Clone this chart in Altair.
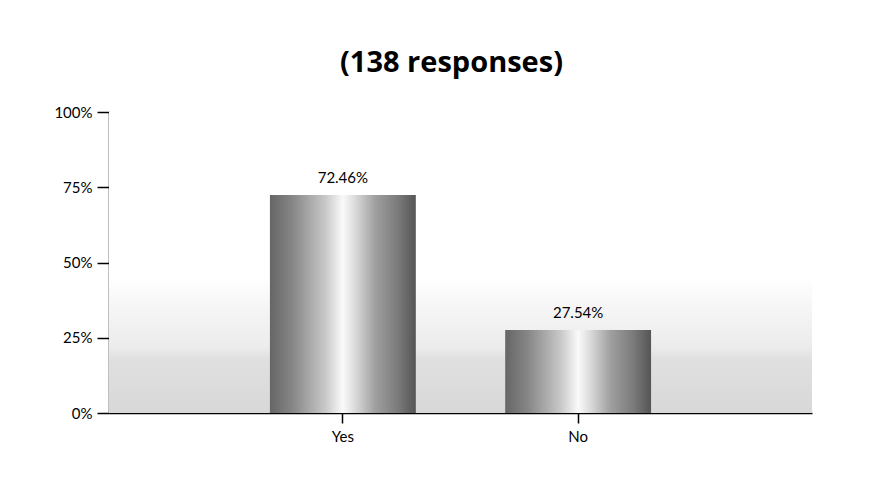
import altair as alt
import pandas as pd

answers = ["Yes", "No"]
percents = [72.46, 27.54]
y_ticks = [0, 25, 50, 75, 100]
title_text = "(138 responses)"

df = pd.DataFrame({"answer": answers, "pct": percents})

FONT = "Lato"
TITLE_FONT = "Open Sans"

bar_grad = alt.Gradient(
    gradient="linear", x1=0, x2=1, y1=0, y2=0,
    stops=[
        alt.GradientStop(offset=0.0, color="#666666"),
        alt.GradientStop(offset=0.15, color="#858585"),
        alt.GradientStop(offset=0.38, color="#c8c8c8"),
        alt.GradientStop(offset=0.5, color="#fafafa"),
        alt.GradientStop(offset=0.58, color="#dcdcdc"),
        alt.GradientStop(offset=0.72, color="#a0a0a0"),
        alt.GradientStop(offset=0.88, color="#7a7a7a"),
        alt.GradientStop(offset=1.0, color="#555555"),
    ],
)

bg_grad = alt.Gradient(
    gradient="linear", x1=0, x2=0, y1=1, y2=0,
    stops=[
        alt.GradientStop(offset=0.0, color="#d8d8d8"),
        alt.GradientStop(offset=0.18, color="#e0e0e0"),
        alt.GradientStop(offset=0.22, color="#ececec"),
        alt.GradientStop(offset=0.36, color="#f6f6f6"),
        alt.GradientStop(offset=0.45, color="#ffffff"),
        alt.GradientStop(offset=1.0, color="#ffffff"),
    ],
)

x_enc = alt.X(
    "answer:N", sort=answers, title=None,
    scale=alt.Scale(paddingInner=0.38, paddingOuter=0.684),
    axis=alt.Axis(labelAngle=0, tickSize=10, labelPadding=6, domainColor="black",
                  tickColor="black", labelColor="black", labelFontSize=15,
                  labelFont=FONT, domainWidth=1.5, tickWidth=1.5),
)
y_enc = alt.Y(
    "pct:Q", title=None,
    scale=alt.Scale(domain=[0, 100], nice=False),
    axis=alt.Axis(values=y_ticks, labelExpr="datum.value + '%'", tickSize=12,
                  labelPadding=5, grid=False, domainColor="black", tickColor="black",
                  labelColor="black", labelFontSize=15, labelFont=FONT,
                  domainWidth=1.5, tickWidth=1.5),
)

background = alt.Chart(pd.DataFrame({"k": [0]})).mark_rect(color=bg_grad).encode(
    x=alt.value(0), x2=alt.value("width"), y=alt.value(0), y2=alt.value("height")
)

bars = alt.Chart(df).mark_bar(color=bar_grad).encode(x=x_enc, y=y_enc)

labels = alt.Chart(df).transform_calculate(
    label="format(datum.pct, '.2f') + '%'"
).mark_text(dy=-9, baseline="bottom", fontSize=15, font=FONT, color="black").encode(
    x=alt.X("answer:N", sort=answers),
    y="pct:Q",
    text="label:N",
)

chart = (
    alt.layer(background, bars, labels)
    .properties(
        width=703, height=301,
        title=alt.TitleParams(title_text, fontSize=29, font=TITLE_FONT, fontWeight="bold",
                              color="black", offset=27, dx=-9, anchor="middle"),
        autosize=alt.AutoSizeParams(type="none"),
        padding={"left": 101, "top": 104, "right": 72, "bottom": 77},
        background="white",
    )
    .configure_view(stroke=None)
)

chart.save("out.html", embed_options={"renderer": "svg", "actions": False})
